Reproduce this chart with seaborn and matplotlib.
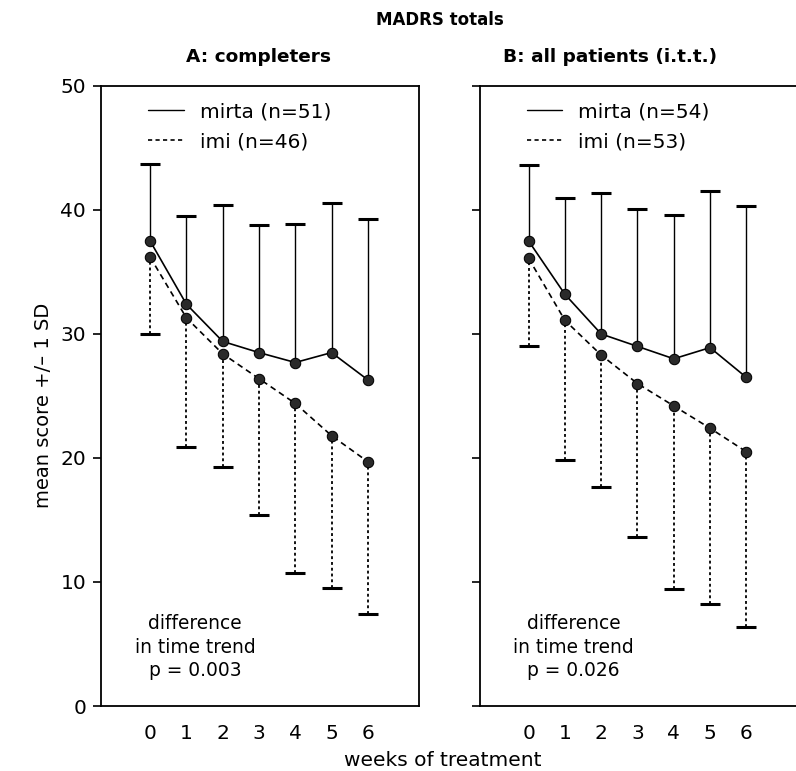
import matplotlib
matplotlib.use("Agg")
import matplotlib.pyplot as plt
from matplotlib.lines import Line2D
import numpy as np
import pandas as pd
import seaborn as sns

# ---------------- data ----------------
weeks = [0, 1, 2, 3, 4, 5, 6]
week_labels = ["0", "1", "2", "3", "4", "5", "6"]
y_ticks = [0, 10, 20, 30, 40, 50]

# A: completers
a_mirta_mean = [37.5, 32.4, 29.4, 28.5, 27.7, 28.5, 26.3]
a_mirta_upper = [43.7, 39.5, 40.4, 38.8, 38.9, 40.6, 39.3]
a_imi_mean = [36.2, 31.3, 28.4, 26.4, 24.4, 21.8, 19.7]
a_imi_lower = [30.0, 20.9, 19.3, 15.4, 10.7, 9.5, 7.4]

# B: all patients (i.t.t.)
b_mirta_mean = [37.5, 33.2, 30.0, 29.0, 28.0, 28.9, 26.5]
b_mirta_upper = [43.6, 41.0, 41.4, 40.1, 39.6, 41.5, 40.3]
b_imi_mean = [36.1, 31.1, 28.3, 26.0, 24.2, 22.4, 20.5]
b_imi_lower = [29.0, 19.8, 17.7, 13.6, 9.4, 8.2, 6.4]

a_labels = ["mirta (n=51)", "imi (n=46)"]
b_labels = ["mirta (n=54)", "imi (n=53)"]
a_note = "difference\nin time trend\np = 0.003"
b_note = "difference\nin time trend\np = 0.026"

# ---------------- style ----------------
sns.set_style("ticks")
plt.rcParams["font.family"] = ["DejaVu Sans"]
plt.rcParams["text.color"] = "black"
plt.rcParams["axes.labelcolor"] = "black"
plt.rcParams["xtick.color"] = "black"
plt.rcParams["ytick.color"] = "black"
plt.rcParams["axes.edgecolor"] = "black"
plt.rcParams["axes.linewidth"] = 1.3

FS = 14.5

fig = plt.figure(figsize=(7.96, 7.71), dpi=100)
axA = fig.add_axes([0.1275, 0.0843, 0.3989, 0.8042])
axB = fig.add_axes([0.6030, 0.0843, 0.3989, 0.8042])

DOTTED = (0, (1.6, 1.6))


def panel(ax, mm, mu, im, il, labels, note, show_labels):
    df = pd.DataFrame({
        "week": weeks * 2,
        "score": mm + im,
        "drug": ["mirta"] * len(weeks) + ["imi"] * len(weeks),
    })
    mm_a, mu_a = np.array(mm), np.array(mu)
    im_a, il_a = np.array(im), np.array(il)
    zeros = np.zeros(len(weeks))
    # +1 SD whisker for mirta (up only)
    e1 = ax.errorbar(weeks, mm, yerr=[zeros, mu_a - mm_a],
                     fmt="none", ecolor="black", elinewidth=1.0,
                     capsize=7.5, capthick=2.2, zorder=2)
    e1[1][0].set_visible(False)  # hide cap at the mean
    # -1 SD whisker for imi (down only, dotted)
    e2 = ax.errorbar(weeks, im, yerr=[im_a - il_a, zeros],
                     fmt="none", ecolor="black", elinewidth=1.3,
                     capsize=7.5, capthick=2.2, zorder=2)
    e2[1][1].set_visible(False)
    e2[2][0].set_linestyle(DOTTED)
    # mean lines
    sns.lineplot(data=df, x="week", y="score", hue="drug", style="drug",
                 hue_order=["mirta", "imi"], style_order=["mirta", "imi"],
                 palette=["black", "black"],
                 dashes={"mirta": "", "imi": (3.5, 2.5)},
                 markers={"mirta": "o", "imi": "o"},
                 markersize=7.5, markerfacecolor="#2a2a2a",
                 markeredgecolor="black", linewidth=1.2,
                 legend=False, ax=ax, zorder=3)
    ax.set_xlim(-1.34, 7.41)
    ax.set_ylim(0, 50)
    ax.set_xticks(weeks)
    ax.set_xticklabels(week_labels, fontsize=FS)
    ax.set_yticks(y_ticks)
    ax.tick_params(axis="x", length=0, pad=13)
    ax.tick_params(axis="y", length=6, width=1.2, direction="out",
                   labelsize=FS, pad=5, labelleft=show_labels)
    ax.set_xlabel("")
    ax.set_ylabel("")
    handles = [Line2D([0], [0], color="black", lw=1.0, linestyle="-"),
               Line2D([0], [0], color="black", lw=1.2, linestyle=(0, (2.5, 2)))]
    ax.legend(handles, labels, loc="upper left", bbox_to_anchor=(0.148, 0.974),
              frameon=False, fontsize=FS, handlelength=1.75, handletextpad=0.8,
              labelspacing=0.55, borderpad=0, borderaxespad=0)
    ax.text(1.24, 4.75, note, ha="center", va="center", fontsize=13.4,
            linespacing=1.32)


panel(axA, a_mirta_mean, a_mirta_upper, a_imi_mean, a_imi_lower,
      a_labels, a_note, True)
panel(axB, b_mirta_mean, b_mirta_upper, b_imi_mean, b_imi_lower,
      b_labels, b_note, False)
axB.spines["right"].set_visible(False)

fig.text(440 / 796, 1 - 20 / 771, "MADRS totals", ha="center", va="center",
         fontsize=12, fontweight="bold")
fig.text(258 / 796, 1 - 57 / 771, "A: completers", ha="center", va="center",
         fontsize=13.3, fontweight="bold")
fig.text(610 / 796, 1 - 57 / 771, "B: all patients (i.t.t.)", ha="center",
         va="center", fontsize=13.3, fontweight="bold")
fig.text(443 / 796, 1 - 760 / 771, "weeks of treatment", ha="center",
         va="center", fontsize=FS)
fig.text(44 / 796, 1 - 405 / 771, "mean score +/\u2013 1 SD", ha="center",
         va="center", rotation=90, fontsize=14)

fig.savefig("out.png", dpi=100)
